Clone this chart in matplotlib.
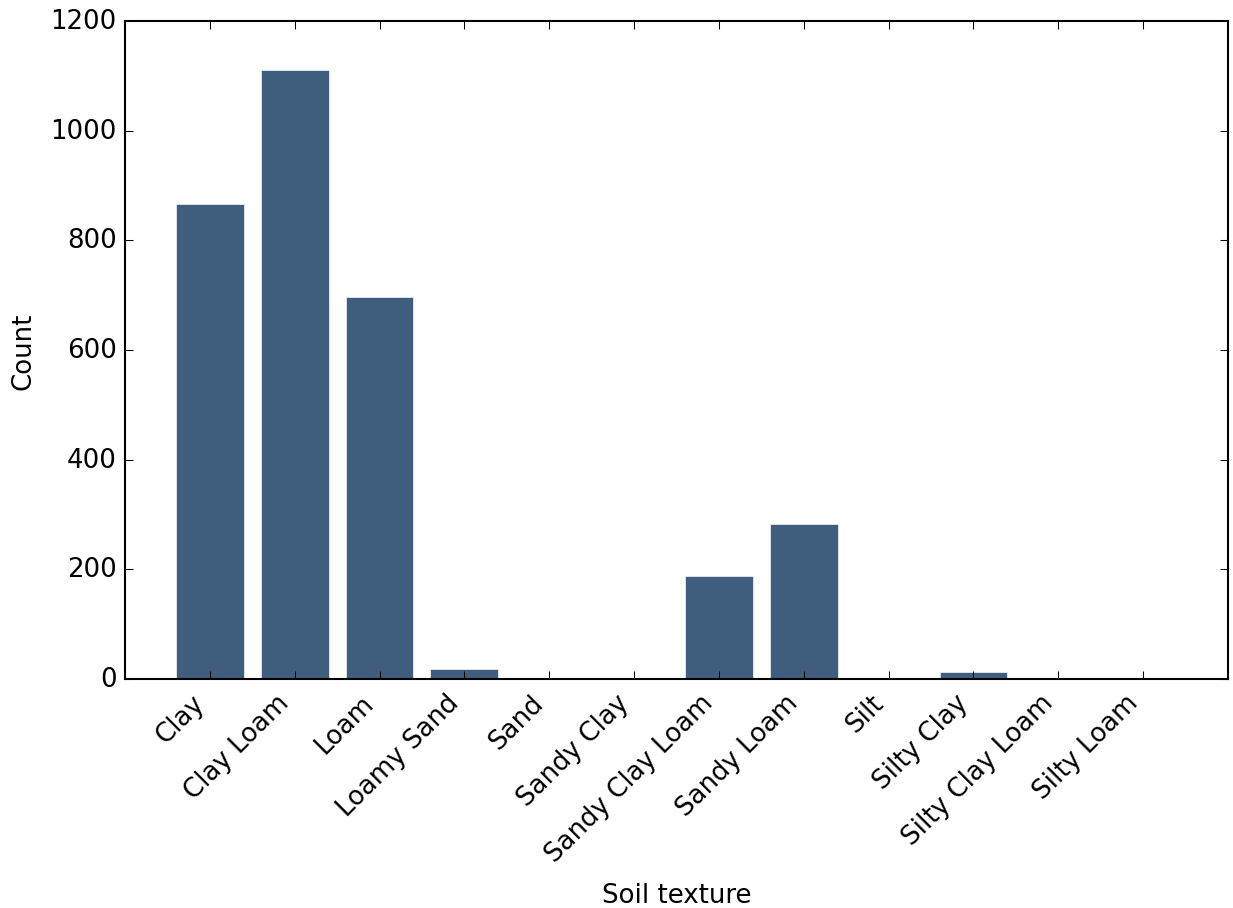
import matplotlib
matplotlib.use("Agg")
import matplotlib.pyplot as plt

plt.style.use("classic")
plt.rcParams["font.size"] = 12.5

textures = ["Clay", "Clay Loam", "Loam", "Loamy Sand", "Sand", "Sandy Clay",
            "Sandy Clay Loam", "Sandy Loam", "Silt", "Silty Clay",
            "Silty Clay Loam", "Silty Loam"]
counts = [866, 1111, 697, 18, 0, 0, 188, 283, 0, 12, 0, 0]

fig = plt.figure(figsize=(1233 / 150, 909 / 150), dpi=150, facecolor="white")
ax = fig.add_axes([125 / 1233, 1 - 680 / 909, (1228 - 125) / 1233, (680 - 22) / 909])

positions = list(range(len(textures)))
ax.bar(positions, counts, width=0.8, align="center",
       color="#3F5D7D", edgecolor="white", linewidth=0.3)

ax.set_xticks(positions)
ax.set_xticklabels(textures, rotation=45, ha="right")
ax.set_xlim(-1, len(textures))
ax.set_ylim(0, 1200)
ax.set_yticks(range(0, 1201, 200))
ax.tick_params(axis="x", pad=5)

ax.set_xlabel("Soil texture", labelpad=7)
ax.set_ylabel("Count", labelpad=6.5)

fig.savefig("out.png", dpi=150, facecolor="white")
